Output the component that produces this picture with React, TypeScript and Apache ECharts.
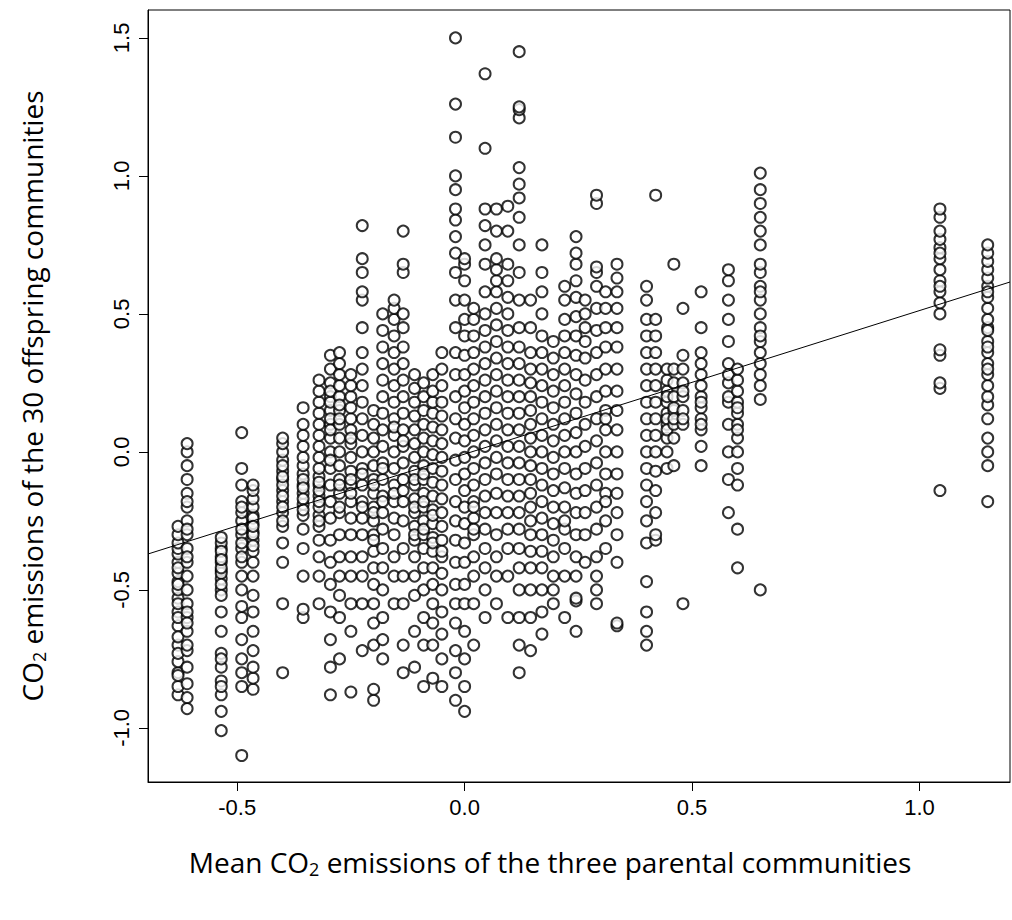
import React, { useEffect, useRef } from 'react';
import * as echarts from 'echarts';

// x position of each parental triplet (mean CO2 of the three parents)
const columnX = [
  -0.63, -0.61, -0.535, -0.49, -0.465, -0.4, -0.355, -0.32, -0.295, -0.275,
  -0.25, -0.225, -0.2, -0.18, -0.155, -0.135, -0.11, -0.09, -0.07, -0.05,
  -0.02, 0.0, 0.02, 0.045, 0.07, 0.095, 0.12, 0.145, 0.17, 0.195,
  0.22, 0.245, 0.265, 0.29, 0.31, 0.335, 0.4, 0.42, 0.445, 0.46,
  0.48, 0.52, 0.58, 0.6, 0.65, 1.045, 1.15,
];

// offspring CO2 values for each column
const columnY = [
  [-0.88, -0.85, -0.8, -0.76, -0.7, -0.63, -0.58, -0.53, -0.5, -0.47, -0.44, -0.4, -0.37, -0.35, -0.33, -0.3, -0.27, -0.42, -0.48, -0.55, -0.6, -0.67, -0.73, -0.81],
  [-0.93, -0.89, -0.84, -0.78, -0.72, -0.65, -0.6, -0.55, -0.5, -0.45, -0.4, -0.35, -0.3, -0.25, -0.2, -0.15, -0.1, -0.05, 0.0, 0.03, -0.18, -0.28, -0.38, -0.58, -0.62, -0.7],
  [-1.01, -0.94, -0.88, -0.83, -0.78, -0.73, -0.65, -0.58, -0.5, -0.46, -0.43, -0.4, -0.38, -0.35, -0.33, -0.31, -0.44, -0.48, -0.52, -0.36, -0.42, -0.39, -0.85, -0.75],
  [-1.1, -0.85, -0.8, -0.75, -0.68, -0.6, -0.56, -0.5, -0.45, -0.4, -0.35, -0.3, -0.25, -0.22, -0.18, -0.12, -0.06, 0.07, -0.33, -0.28, -0.2, -0.38],
  [-0.86, -0.82, -0.78, -0.72, -0.65, -0.58, -0.52, -0.45, -0.4, -0.36, -0.32, -0.29, -0.26, -0.23, -0.2, -0.17, -0.14, -0.12, -0.3, -0.24, -0.34, -0.27],
  [-0.8, -0.55, -0.4, -0.33, -0.27, -0.22, -0.18, -0.14, -0.1, -0.07, -0.03, 0.0, 0.03, 0.05, -0.12, -0.16, -0.2, -0.25, -0.09, -0.05],
  [-0.6, -0.57, -0.45, -0.35, -0.28, -0.23, -0.19, -0.15, -0.12, -0.08, -0.05, -0.02, 0.02, 0.06, 0.1, 0.16, -0.17, -0.1, -0.21, -0.13],
  [-0.55, -0.45, -0.38, -0.32, -0.27, -0.23, -0.2, -0.16, -0.12, -0.09, -0.06, -0.02, 0.02, 0.06, 0.1, 0.14, 0.18, 0.22, 0.26, -0.18, -0.14, -0.11, -0.25],
  [-0.88, -0.78, -0.68, -0.58, -0.48, -0.4, -0.32, -0.24, -0.18, -0.12, -0.06, 0.0, 0.05, 0.1, 0.15, 0.2, 0.25, 0.3, 0.35, 0.08, 0.12, 0.18, 0.22, -0.03],
  [-0.75, -0.6, -0.52, -0.45, -0.38, -0.3, -0.22, -0.15, -0.1, -0.05, 0.0, 0.05, 0.1, 0.15, 0.2, 0.24, 0.28, 0.32, 0.36, -0.2, -0.12, 0.12, 0.17],
  [-0.87, -0.65, -0.55, -0.45, -0.38, -0.3, -0.24, -0.18, -0.12, -0.07, -0.02, 0.03, 0.08, 0.12, 0.16, 0.2, 0.24, 0.28, -0.15, -0.1, 0.05],
  [-0.72, -0.55, -0.45, -0.38, -0.3, -0.24, -0.18, -0.12, -0.06, 0.0, 0.06, 0.12, 0.18, 0.24, 0.3, 0.36, 0.45, 0.55, 0.58, 0.65, 0.7, 0.82, -0.2, -0.08],
  [-0.9, -0.86, -0.7, -0.62, -0.55, -0.48, -0.42, -0.36, -0.3, -0.25, -0.2, -0.15, -0.1, -0.05, 0.0, 0.05, 0.1, 0.15, -0.22, -0.12, -0.32],
  [-0.75, -0.68, -0.6, -0.5, -0.42, -0.35, -0.28, -0.22, -0.16, -0.1, -0.04, 0.02, 0.08, 0.14, 0.2, 0.26, 0.32, 0.38, 0.44, 0.5, -0.18, -0.06],
  [-0.55, -0.45, -0.38, -0.3, -0.24, -0.18, -0.12, -0.06, 0.0, 0.06, 0.12, 0.18, 0.24, 0.3, 0.36, 0.42, 0.48, 0.52, 0.55, -0.15, 0.09],
  [-0.8, -0.7, -0.55, -0.45, -0.35, -0.25, -0.18, -0.1, -0.04, 0.02, 0.08, 0.14, 0.2, 0.26, 0.32, 0.38, 0.45, 0.5, 0.65, 0.68, 0.8, 0.04, -0.14],
  [-0.78, -0.65, -0.52, -0.45, -0.38, -0.32, -0.27, -0.22, -0.17, -0.12, -0.07, -0.02, 0.03, 0.08, 0.13, 0.18, 0.23, 0.28, -0.3, -0.2, -0.1],
  [-0.85, -0.7, -0.6, -0.5, -0.42, -0.35, -0.3, -0.25, -0.2, -0.15, -0.1, -0.05, 0.0, 0.05, 0.1, 0.15, 0.2, 0.25, -0.28, -0.18, -0.08],
  [-0.82, -0.7, -0.62, -0.55, -0.48, -0.42, -0.36, -0.31, -0.26, -0.21, -0.16, -0.11, -0.06, -0.01, 0.04, 0.09, 0.14, 0.18, 0.22, 0.28, -0.33, -0.23],
  [-0.85, -0.75, -0.66, -0.58, -0.5, -0.44, -0.38, -0.32, -0.27, -0.22, -0.17, -0.12, -0.07, -0.02, 0.03, 0.08, 0.13, 0.18, 0.24, 0.3, 0.36, -0.36],
  [-0.9, -0.8, -0.72, -0.62, -0.55, -0.48, -0.4, -0.32, -0.25, -0.18, -0.1, -0.03, 0.05, 0.12, 0.2, 0.28, 0.36, 0.45, 0.55, 0.65, 0.72, 0.78, 0.84, 0.88, 0.95, 1.0, 1.14, 1.26, 1.5],
  [-0.94, -0.85, -0.75, -0.65, -0.55, -0.48, -0.4, -0.33, -0.26, -0.2, -0.14, -0.08, -0.02, 0.04, 0.1, 0.16, 0.22, 0.28, 0.35, 0.42, 0.48, 0.55, 0.62, 0.68, 0.7],
  [-0.7, -0.55, -0.45, -0.38, -0.3, -0.24, -0.18, -0.12, -0.06, 0.0, 0.06, 0.12, 0.18, 0.24, 0.3, 0.36, 0.42, 0.48, 0.52, -0.2, -0.28],
  [-0.6, -0.5, -0.42, -0.35, -0.28, -0.22, -0.16, -0.1, -0.04, 0.02, 0.08, 0.14, 0.2, 0.26, 0.32, 0.38, 0.44, 0.5, 0.58, 0.68, 0.75, 0.82, 0.88, 1.1, 1.37],
  [-0.55, -0.45, -0.38, -0.3, -0.22, -0.15, -0.08, -0.02, 0.04, 0.1, 0.16, 0.22, 0.28, 0.34, 0.4, 0.46, 0.52, 0.58, 0.62, 0.66, 0.7, 0.8, 0.88],
  [-0.6, -0.45, -0.35, -0.28, -0.22, -0.16, -0.1, -0.04, 0.02, 0.08, 0.14, 0.2, 0.26, 0.32, 0.38, 0.44, 0.5, 0.56, 0.62, 0.68, 0.8, 0.89],
  [-0.8, -0.7, -0.6, -0.5, -0.42, -0.35, -0.28, -0.22, -0.16, -0.1, -0.04, 0.02, 0.08, 0.14, 0.2, 0.26, 0.32, 0.38, 0.45, 0.55, 0.65, 0.75, 0.85, 0.92, 0.97, 1.03, 1.21, 1.24, 1.25, 1.45],
  [-0.72, -0.6, -0.5, -0.42, -0.36, -0.3, -0.25, -0.2, -0.15, -0.1, -0.05, 0.0, 0.05, 0.1, 0.15, 0.2, 0.25, 0.3, 0.36, 0.45, 0.55],
  [-0.66, -0.58, -0.5, -0.42, -0.36, -0.3, -0.24, -0.18, -0.12, -0.06, 0.0, 0.06, 0.12, 0.18, 0.24, 0.3, 0.36, 0.42, 0.5, 0.58, 0.65, 0.75],
  [-0.55, -0.45, -0.38, -0.32, -0.26, -0.2, -0.14, -0.08, -0.02, 0.04, 0.1, 0.16, 0.22, 0.28, 0.34, 0.4, -0.5],
  [-0.6, -0.45, -0.35, -0.28, -0.2, -0.13, -0.06, 0.0, 0.06, 0.12, 0.18, 0.24, 0.3, 0.36, 0.42, 0.48, 0.55, 0.6, -0.25],
  [-0.65, -0.54, -0.45, -0.38, -0.3, -0.22, -0.15, -0.08, 0.0, 0.07, 0.14, 0.21, 0.28, 0.35, 0.42, 0.49, 0.56, 0.62, 0.68, 0.72, 0.78, -0.53],
  [-0.4, -0.3, -0.22, -0.14, -0.06, 0.02, 0.1, 0.18, 0.26, 0.34, 0.4, 0.45, 0.5, 0.55],
  [-0.55, -0.5, -0.45, -0.38, -0.28, -0.2, -0.12, -0.04, 0.04, 0.12, 0.2, 0.28, 0.36, 0.44, 0.52, 0.6, 0.65, 0.67, 0.9, 0.93],
  [-0.35, -0.25, -0.15, -0.08, 0.0, 0.08, 0.15, 0.22, 0.3, 0.38, 0.45, 0.52, 0.58, -0.18, 0.12],
  [-0.63, -0.62, -0.4, -0.3, -0.22, -0.15, -0.08, 0.0, 0.08, 0.15, 0.22, 0.3, 0.38, 0.45, 0.52, 0.58, 0.63, 0.68],
  [-0.7, -0.65, -0.58, -0.47, -0.33, -0.25, -0.18, -0.12, -0.06, 0.0, 0.06, 0.12, 0.18, 0.24, 0.3, 0.36, 0.42, 0.48, 0.55, 0.6],
  [-0.32, -0.22, -0.14, -0.07, 0.0, 0.06, 0.12, 0.18, 0.24, 0.3, 0.36, 0.42, 0.48, 0.93, -0.3],
  [-0.06, 0.0, 0.05, 0.1, 0.14, 0.18, 0.22, 0.26, 0.3, 0.12, 0.08, 0.2],
  [-0.05, 0.05, 0.1, 0.15, 0.2, 0.25, 0.3, 0.68, 0.16, 0.12],
  [-0.55, 0.1, 0.15, 0.2, 0.25, 0.3, 0.35, 0.52, 0.12, 0.22],
  [-0.05, 0.02, 0.08, 0.12, 0.16, 0.2, 0.24, 0.28, 0.32, 0.36, 0.45, 0.58, 0.1, 0.18],
  [-0.22, -0.1, 0.0, 0.1, 0.18, 0.25, 0.32, 0.4, 0.48, 0.55, 0.62, 0.66, 0.2, 0.28],
  [-0.42, -0.28, -0.12, -0.06, 0.0, 0.05, 0.1, 0.14, 0.18, 0.22, 0.26, 0.3, 0.08, 0.16],
  [-0.5, 0.19, 0.24, 0.28, 0.32, 0.36, 0.4, 0.45, 0.5, 0.55, 0.6, 0.65, 0.68, 0.75, 0.8, 0.85, 0.9, 0.95, 1.01, 0.42, 0.58],
  [-0.14, 0.23, 0.25, 0.35, 0.37, 0.5, 0.54, 0.58, 0.62, 0.66, 0.7, 0.74, 0.77, 0.8, 0.85, 0.88, 0.6, 0.72],
  [-0.18, -0.05, 0.0, 0.05, 0.12, 0.17, 0.2, 0.24, 0.28, 0.32, 0.36, 0.4, 0.45, 0.48, 0.52, 0.56, 0.6, 0.63, 0.66, 0.69, 0.72, 0.75, 0.3, 0.38, 0.44, 0.58],
];

const xTicks = [-0.5, 0.0, 0.5, 1.0];
const yTicks = [-1.0, -0.5, 0.0, 0.5, 1.0, 1.5];

// fitted regression line
const fitIntercept = -0.008;
const fitSlope = 0.52;

const X_MIN = -0.696;
const X_MAX = 1.199;
const Y_MIN = -1.196;
const Y_MAX = 1.601;

const App: React.FC = () => {
  const chartRef = useRef<HTMLDivElement | null>(null);

  useEffect(() => {
    document.body.style.margin = '0';
    const chart = echarts.init(chartRef.current!, undefined, { renderer: 'svg' });

    const points: number[][] = [];
    columnX.forEach((x, i) => columnY[i].forEach((y) => points.push([x, y])));

    const font = 'Liberation Sans, Arial, sans-serif';
    const titleFont = 'Open Sans, sans-serif';

    const axisCommon = {
      splitLine: { show: false },
      axisLine: { show: true, onZero: false, lineStyle: { color: '#000' } },
    };

    const option: echarts.EChartsOption = {
      animation: false,
      backgroundColor: '#fff',
      grid: {
        left: 148,
        top: 10,
        width: 862,
        height: 772,
        show: true,
        borderColor: '#000',
        borderWidth: 1,
      },
      xAxis: {
        type: 'value',
        min: X_MIN,
        max: X_MAX,
        ...axisCommon,
        axisTick: {
          show: true,
          length: 9,
          customValues: xTicks,
          lineStyle: { color: '#000' },
        },
        axisLabel: {
          customValues: xTicks,
          formatter: (v: number) => v.toFixed(1),
          color: '#000',
          fontSize: 22,
          fontFamily: font,
          margin: 14,
        },
      },
      yAxis: {
        type: 'value',
        min: Y_MIN,
        max: Y_MAX,
        ...axisCommon,
        axisTick: {
          show: true,
          length: 9,
          customValues: yTicks,
          lineStyle: { color: '#000' },
        },
        axisLabel: {
          customValues: yTicks,
          formatter: (v: number) => v.toFixed(1),
          color: '#000',
          fontSize: 22,
          fontFamily: font,
          rotate: 90,
          margin: 16,
        },
      },
      graphic: [
        {
          type: 'text',
          x: 550,
          y: 862,
          style: {
            text: '{a|Mean CO}{s|2}{a| emissions of the three parental communities}',
            align: 'center',
            verticalAlign: 'middle',
            fill: '#000',
            rich: {
              a: { fontSize: 28, fontFamily: titleFont, fill: '#000' },
              s: { fontSize: 18, fontFamily: titleFont, fill: '#000', padding: [14, 0, 0, 0] },
            },
          },
        },
        {
          type: 'text',
          x: 32,
          y: 396,
          rotation: Math.PI / 2,
          style: {
            text: '{a|CO}{s|2}{a| emissions of the 30 offspring communities}',
            align: 'center',
            verticalAlign: 'middle',
            fill: '#000',
            rich: {
              a: { fontSize: 28, fontFamily: titleFont, fill: '#000' },
              s: { fontSize: 18, fontFamily: titleFont, fill: '#000', padding: [14, 0, 0, 0] },
            },
          },
        },
      ],
      series: [
        {
          type: 'scatter',
          data: points,
          symbol: 'emptyCircle',
          symbolSize: 11,
          itemStyle: { color: '#000', borderColor: '#000', borderWidth: 0.8 },
          silent: true,
        },
        {
          type: 'line',
          data: [
            [X_MIN, fitIntercept + fitSlope * X_MIN],
            [X_MAX, fitIntercept + fitSlope * X_MAX],
          ],
          symbol: 'none',
          lineStyle: { color: '#000', width: 1 },
          silent: true,
        },
      ],
    };

    chart.setOption(option);
    return () => {
      chart.dispose();
    };
  }, []);

  return <div ref={chartRef} style={{ width: '1012px', height: '920px' }} />;
};

export default App;
